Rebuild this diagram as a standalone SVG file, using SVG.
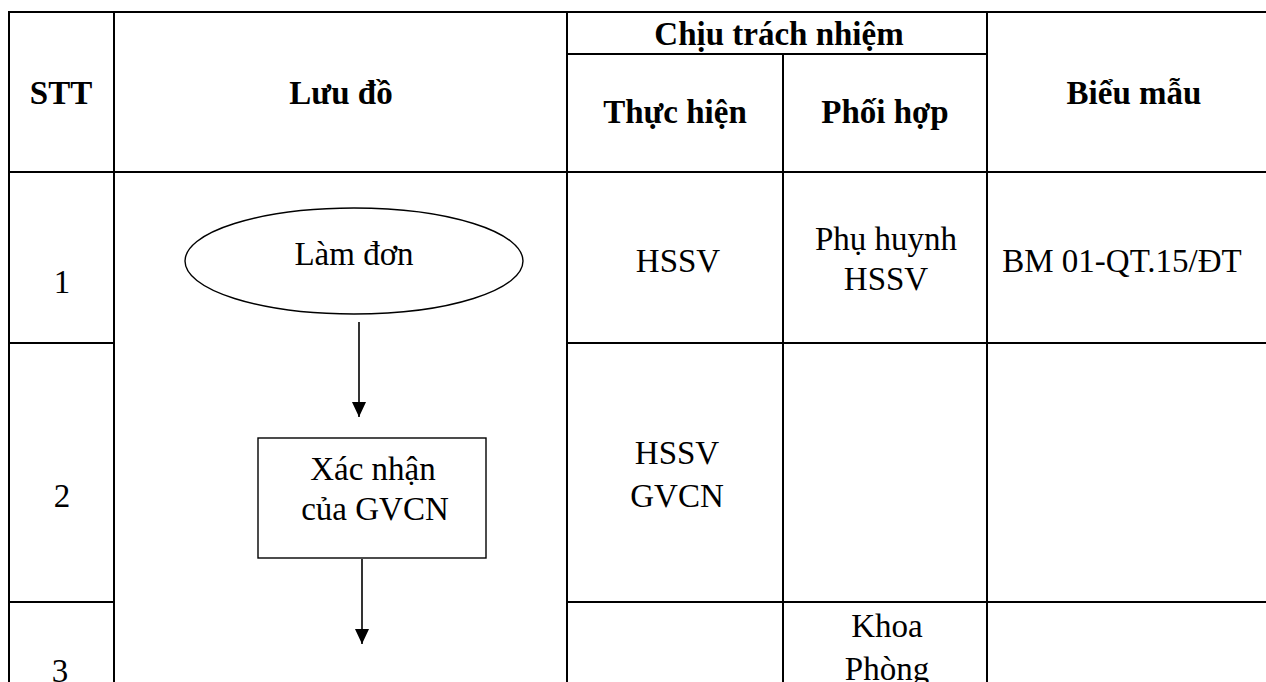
<svg xmlns="http://www.w3.org/2000/svg" width="1266" height="682" viewBox="0 0 1266 682">
<style>
.grid line{stroke:#000;stroke-width:2;}
text{font-family:"Liberation Serif","Times New Roman",serif;font-size:33px;fill:#000;text-anchor:middle;}
.h{font-weight:bold;}
.shape{fill:#fff;stroke:#000;stroke-width:1.4;}
.conn line{stroke:#000;stroke-width:1.6;}
</style>
<defs>
<marker id="arr" markerWidth="15" markerHeight="14" refX="15" refY="7" orient="auto" markerUnits="userSpaceOnUse" viewBox="0 0 15 14">
<path d="M0,0 L15,7 L0,14 Z" fill="#000"/>
</marker>
</defs>
<rect width="1266" height="682" fill="#fff"/>
<g id="table" class="grid">
<line x1="8" y1="12" x2="1266" y2="12"/>
<line x1="567" y1="54" x2="987" y2="54"/>
<line x1="8" y1="172" x2="1266" y2="172"/>
<line x1="8" y1="343" x2="114" y2="343"/>
<line x1="567" y1="343" x2="1266" y2="343"/>
<line x1="8" y1="602" x2="114" y2="602"/>
<line x1="567" y1="602" x2="1266" y2="602"/>
<line x1="9" y1="11" x2="9" y2="682"/>
<line x1="114" y1="11" x2="114" y2="682"/>
<line x1="567" y1="11" x2="567" y2="682"/>
<line x1="783" y1="54" x2="783" y2="682"/>
<line x1="987" y1="11" x2="987" y2="682"/>
</g>
<g id="header">
<text class="h" x="61" y="104">STT</text>
<text class="h" x="341" y="104">Lưu đồ</text>
<text class="h" x="779" y="45">Chịu trách nhiệm</text>
<text class="h" x="675" y="123">Thực hiện</text>
<text class="h" x="885" y="123">Phối hợp</text>
<text class="h" x="1134" y="104">Biểu mẫu</text>
</g>
<g id="row1">
<text x="62" y="293">1</text>
<text x="678" y="272">HSSV</text>
<text x="886" y="250">Phụ huynh</text>
<text x="886" y="290">HSSV</text>
<text x="1122" y="272">BM 01-QT.15/ĐT</text>
</g>
<g id="row2">
<text x="62" y="507">2</text>
<text x="677" y="464">HSSV</text>
<text x="677" y="507">GVCN</text>
</g>
<g id="row3">
<text x="60" y="682">3</text>
<text x="887" y="637">Khoa</text>
<text x="887" y="680">Phòng</text>
</g>
<g id="node-lamdon">
<ellipse class="shape" cx="354" cy="261" rx="169" ry="53"/>
<text x="354" y="265">Làm đơn</text>
</g>
<g id="node-xacnhan">
<rect class="shape" x="258" y="438" width="228" height="120"/>
<text x="373" y="480">Xác nhận</text>
<text x="375" y="520">của GVCN</text>
</g>
<g id="connectors" class="conn">
<line x1="359" y1="322" x2="359" y2="417" marker-end="url(#arr)"/>
<line x1="362" y1="559" x2="362" y2="644" marker-end="url(#arr)"/>
</g>
</svg>
